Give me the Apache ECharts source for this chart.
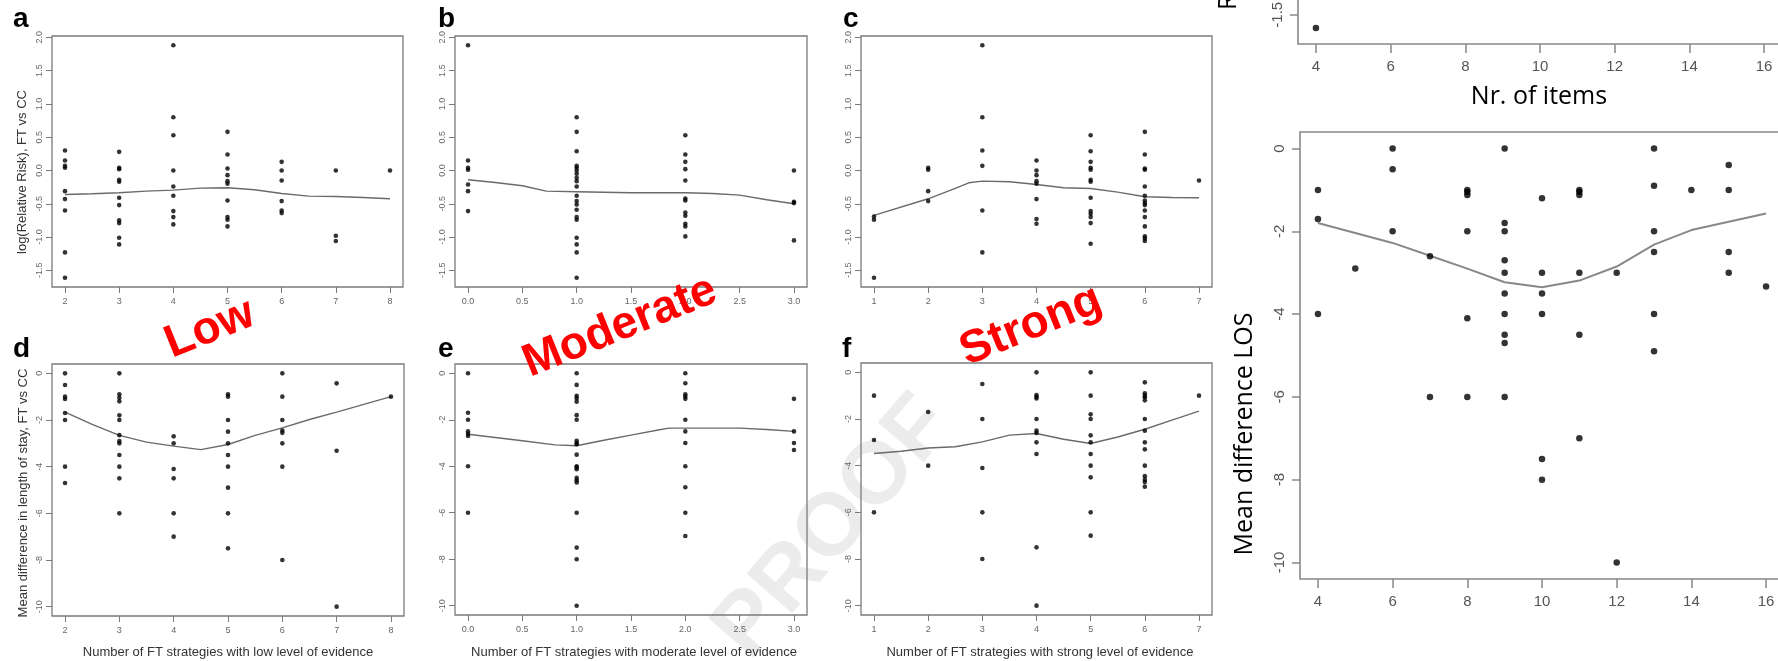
<!DOCTYPE html>
<html><head><meta charset="utf-8">
<script src="https://cdn.jsdelivr.net/npm/echarts@6/dist/echarts.min.js"></script>
<style>html,body{margin:0;padding:0;background:#fff}#c{width:1778px;height:661px}</style>
</head><body><div id="c"></div><script>
// ---------- DATA ----------
// Panel a: log(Relative Risk) vs number of low-evidence strategies
const aCats = [2,3,4,5,6,7,8];
const aVals = [
  [0.30,0.15,0.07,0.04,-0.31,-0.43,-0.60,-1.23,-1.61],
  [0.28,0.04,0.02,-0.14,-0.17,-0.41,-0.52,-0.75,-0.79,-1.01,-1.11],
  [1.88,0.80,0.53,0.0,-0.24,-0.38,-0.61,-0.70,-0.81],
  [0.58,0.24,0.03,-0.07,-0.16,-0.20,-0.45,-0.70,-0.74,-0.84],
  [0.13,0.0,-0.15,-0.46,-0.60,-0.64],
  [0.0,-0.98,-1.06],
  [0.0]
];
const aLineX = [2,2.5,3,3.5,4,4.5,5,5.5,6,6.5,7,7.5,8];
const aLineY = [-0.36,-0.35,-0.335,-0.31,-0.295,-0.265,-0.26,-0.29,-0.345,-0.385,-0.39,-0.405,-0.425];

// Panel b: moderate evidence
const bCats = [0,1,2,3];
const bVals = [
  [1.88,0.15,0.04,0.01,-0.21,-0.31,-0.61],
  [0.80,0.58,0.29,0.07,0.04,0.0,-0.05,-0.11,-0.16,-0.24,-0.38,-0.46,-0.51,-0.59,-0.70,-0.74,-1.01,-1.11,-1.23,-1.61],
  [0.53,0.24,0.13,0.02,-0.15,-0.42,-0.45,-0.63,-0.68,-0.80,-0.84,-0.99],
  [0.0,-0.47,-0.49,-1.05]
];
const bLineX = [0,0.25,0.5,0.72,1,1.5,2,2.25,2.5,2.75,3];
const bLineY = [-0.14,-0.18,-0.23,-0.31,-0.32,-0.335,-0.335,-0.345,-0.37,-0.44,-0.5];

// Panel c: strong evidence
const cCats = [1,2,3,4,5,6,7];
const cVals = [
  [-0.69,-0.74,-1.61],
  [0.04,0.01,-0.31,-0.46],
  [1.88,0.80,0.30,0.07,-0.60,-1.23],
  [0.15,0.0,-0.07,-0.16,-0.20,-0.43,-0.73,-0.80],
  [0.53,0.29,0.13,0.04,0.01,-0.14,-0.17,-0.41,-0.61,-0.65,-0.70,-0.79,-1.10],
  [0.58,0.24,0.03,0.01,-0.24,-0.38,-0.45,-0.49,-0.52,-0.60,-0.70,-0.84,-0.99,-1.02,-1.06],
  [-0.15]
];
const cLineX = [1,2,2.5,2.75,3,3.5,4,4.5,5,5.5,6,6.5,7];
const cLineY = [-0.675,-0.425,-0.27,-0.185,-0.16,-0.17,-0.21,-0.26,-0.27,-0.325,-0.395,-0.405,-0.41];

// Panel d: mean difference in LOS vs low-evidence strategies
const dCats = [2,3,4,5,6,7,8];
const dVals = [
  [0,-0.5,-1.0,-1.1,-1.7,-2.0,-4.0,-4.7],
  [0,-0.9,-1.05,-1.2,-1.8,-2.0,-2.65,-2.9,-3.0,-3.5,-4.0,-4.5,-6.0],
  [-2.7,-3.0,-4.1,-4.5,-6.0,-7.0],
  [-0.9,-1.0,-2.0,-2.5,-3.0,-3.5,-4.0,-4.9,-6.0,-7.5],
  [0,-1.0,-2.0,-2.45,-2.55,-3.0,-4.0,-8.0],
  [-0.43,-3.32,-10.0],
  [-1.0]
];
const dLineX = [2,2.5,3,3.5,4,4.5,5,5.5,6,6.5,7,7.5,8];
const dLineY = [-1.66,-2.19,-2.66,-2.95,-3.12,-3.27,-3.05,-2.66,-2.34,-1.98,-1.66,-1.33,-1.0];

// Panel e
const eCats = [0,1,2,3];
const eVals = [
  [0,-1.7,-2.0,-2.5,-2.6,-2.7,-4.0,-6.0],
  [0,-0.5,-0.97,-1.07,-1.22,-1.8,-2.0,-2.9,-3.0,-3.05,-3.5,-4.0,-4.05,-4.13,-4.5,-4.6,-4.7,-6.0,-7.5,-8.0,-10.0],
  [0,-0.43,-0.9,-1.0,-1.1,-2.0,-2.5,-3.0,-4.0,-4.9,-6.0,-7.0],
  [-1.1,-2.5,-3.0,-3.3]
];
const eLineX = [0,0.5,0.8,1,1.25,1.5,1.75,1.85,2,2.5,2.75,3];
const eLineY = [-2.62,-2.9,-3.08,-3.12,-2.88,-2.66,-2.44,-2.36,-2.36,-2.36,-2.42,-2.5];

// Panel f
const fCats = [1,2,3,4,5,6,7];
const fVals = [
  [-1.0,-2.9,-6.0],
  [-1.7,-4.0],
  [-0.5,-2.0,-4.1,-6.0,-8.0],
  [0,-0.97,-1.05,-1.12,-2.0,-2.5,-2.6,-3.0,-3.5,-7.5,-10.0],
  [0,-1.0,-1.8,-2.0,-2.7,-3.0,-3.5,-4.0,-4.5,-6.0,-7.0],
  [-0.43,-0.9,-1.0,-1.07,-1.2,-2.0,-2.5,-3.0,-3.3,-4.0,-4.45,-4.6,-4.7,-4.9],
  [-1.0]
];
const fLineX = [1,1.5,2,2.5,3,3.5,4,4.5,5,5.5,6,6.5,7];
const fLineY = [-3.48,-3.38,-3.24,-3.19,-2.98,-2.69,-2.62,-2.87,-3.05,-2.77,-2.44,-2.05,-1.66];

// Right panels: vs number of items
const urCats = [4];
const urVals = [[-1.6]];
const rCats = [4,5,6,7,8,9,10,11,12,13,14,15,16];
const rVals = [
  [-1.0,-1.7,-4.0],
  [-2.9],
  [0,-0.5,-2.0],
  [-2.6,-6.0],
  [-1.0,-1.05,-1.12,-2.0,-4.1,-6.0],
  [0,-1.8,-2.0,-2.7,-3.0,-3.5,-4.0,-4.5,-4.7,-6.0],
  [-1.2,-3.0,-3.5,-4.0,-7.5,-8.0],
  [-1.0,-1.05,-1.12,-3.0,-4.5,-7.0],
  [-3.0,-10.0],
  [0,-0.9,-2.0,-2.5,-4.0,-4.9],
  [-1.0],
  [-0.4,-1.0,-2.5,-3.0],
  [-3.33]
];
const rLineX = [4,5,6,7,8,9,10,11,12,13,14,15,16];
const rLineY = [-1.8,-2.04,-2.28,-2.59,-2.9,-3.23,-3.35,-3.19,-2.85,-2.32,-1.97,-1.77,-1.57];

// Tick labels
const rrTicks = [-1.5,-1.0,-0.5,0.0,0.5,1.0,1.5,2.0];
const losTicks = [0,-2,-4,-6,-8,-10];
const modTicks = [0,0.5,1,1.5,2,2.5,3];
const itemTicks = [4,6,8,10,12,14,16];
const urYTicks = [-1.5,-1.0,-0.5,0.0,0.5];

// Text
const panelLetters = ['a','b','c','d','e','f'];
const yTitleTop = 'log(Relative Risk), FT vs CC';
const yTitleBottom = 'Mean difference in length of stay, FT vs CC';
const xTitles = ['Number of FT strategies with low level of evidence','Number of FT strategies with moderate level of evidence','Number of FT strategies with strong level of evidence'];
const levelLabels = ['Low','Moderate','Strong'];
const rightXTitle = 'Nr. of items';
const rightYTitle = 'Mean difference LOS';
const rightTopYTitle = 'Relative Risk';
const watermark = 'PROOF';

// ---------- BUILD ----------
function pts(cats, vals){ const o=[]; cats.forEach((c,i)=>vals[i].forEach(v=>o.push([c,v]))); return o; }
function ln(xs, ys){ return xs.map((x,i)=>[x, ys[i]]); }
const SANS = '"Liberation Sans", Arial, sans-serif';
const f1 = v => v.toFixed(1);
const f0 = v => String(v);

const panels = [
  {box:[52,36,403,287],  x:[1.76,8.24], xt:aCats, xf:f0, y:[-1.75,2.02], yt:rrTicks, yf:f1, s:pts(aCats,aVals), l:ln(aLineX,aLineY)},
  {box:[455,36,807,287], x:[-0.12,3.12], xt:modTicks, xf:f1, y:[-1.75,2.02], yt:rrTicks, yf:f1, s:pts(bCats,bVals), l:ln(bLineX,bLineY)},
  {box:[861,36,1212,287],x:[0.76,7.24], xt:cCats, xf:f0, y:[-1.75,2.02], yt:rrTicks, yf:f1, s:pts(cCats,cVals), l:ln(cLineX,cLineY)},
  {box:[52,364,404,616], x:[1.76,8.24], xt:dCats, xf:f0, y:[-10.4,0.4], yt:losTicks, yf:f0, s:pts(dCats,dVals), l:ln(dLineX,dLineY)},
  {box:[455,364,807,615],x:[-0.12,3.12], xt:modTicks, xf:f1, y:[-10.4,0.4], yt:losTicks, yf:f0, s:pts(eCats,eVals), l:ln(eLineX,eLineY)},
  {box:[861,363,1212,615],x:[0.76,7.24], xt:fCats, xf:f0, y:[-10.4,0.4], yt:losTicks, yf:f0, s:pts(fCats,fVals), l:ln(fLineX,fLineY)}
];

const grids=[], xAxes=[], yAxes=[], series=[];
const BOX='#7a7a7a';
const noLine = {show:false, onZero:false};
panels.forEach((p,i)=>{
  const [l,t,r,b]=p.box;
  grids.push({left:l, top:t, width:r-l, height:b-t, show:true, borderColor:BOX, borderWidth:1.3, containLabel:false, outerBoundsMode:'none'});
  xAxes.push({gridIndex:i, type:'value', position:'bottom', min:p.x[0], max:p.x[1], axisLine:noLine, splitLine:{show:false},
    axisTick:{show:true, inside:false, length:6, customValues:p.xt, lineStyle:{color:BOX, width:1}},
    axisLabel:{customValues:p.xt, formatter:p.xf, fontSize:9, color:'#666', margin:10, fontFamily:SANS}});
  yAxes.push({gridIndex:i, type:'value', position:'left', min:p.y[0], max:p.y[1], axisLine:noLine, splitLine:{show:false},
    axisTick:{show:true, inside:false, length:6, customValues:p.yt, lineStyle:{color:BOX, width:1}},
    axisLabel:{customValues:p.yt, formatter:p.yf, fontSize:9, color:'#666', margin:8, rotate:90, fontFamily:SANS}});
  series.push({type:'line', xAxisIndex:i, yAxisIndex:i, data:p.l, showSymbol:false, symbol:'none', lineStyle:{color:'#6a6a6a', width:1.4}, z:2, silent:true});
  series.push({type:'scatter', xAxisIndex:i, yAxisIndex:i, data:p.s, symbolSize:4.6, itemStyle:{color:'#000'}, z:3, silent:true});
});

// right upper (mostly off-canvas)
grids.push({left:1298, top:-300, width:484, height:661-617+300, show:true, borderColor:'#888', borderWidth:1.6, containLabel:false, outerBoundsMode:'none'});
xAxes.push({gridIndex:6, type:'value', position:'bottom', min:3.52, max:16.48, axisLine:noLine, splitLine:{show:false},
  axisTick:{show:true, length:9, customValues:itemTicks, lineStyle:{color:'#888', width:1.5}},
  axisLabel:{customValues:itemTicks, fontSize:15, color:'#555', margin:15, fontFamily:SANS}});
yAxes.push({gridIndex:6, type:'value', position:'left', min:-1.72, max:0.87, axisLine:noLine, splitLine:{show:false},
  axisTick:{show:true, length:8, customValues:urYTicks, lineStyle:{color:'#888', width:1.5}},
  axisLabel:{customValues:urYTicks, formatter:f1, fontSize:15, color:'#555', margin:13, rotate:90, fontFamily:SANS}});
series.push({type:'scatter', xAxisIndex:6, yAxisIndex:6, data:pts(urCats,urVals), symbolSize:6.5, itemStyle:{color:'#000'}, silent:true});

// right lower
grids.push({left:1300, top:132, width:484, height:579-132, show:true, borderColor:'#888', borderWidth:1.6, containLabel:false, outerBoundsMode:'none'});
xAxes.push({gridIndex:7, type:'value', position:'bottom', min:3.52, max:16.48, axisLine:noLine, splitLine:{show:false},
  axisTick:{show:true, length:9, customValues:itemTicks, lineStyle:{color:'#888', width:1.5}},
  axisLabel:{customValues:itemTicks, fontSize:15, color:'#555', margin:15, fontFamily:SANS}});
yAxes.push({gridIndex:7, type:'value', position:'left', min:-10.4, max:0.4, axisLine:noLine, splitLine:{show:false},
  axisTick:{show:true, length:8, customValues:losTicks, lineStyle:{color:'#888', width:1.5}},
  axisLabel:{customValues:losTicks, fontSize:15, color:'#555', margin:13, rotate:90, fontFamily:SANS}});
series.push({type:'line', xAxisIndex:7, yAxisIndex:7, data:ln(rLineX,rLineY), showSymbol:false, symbol:'none', lineStyle:{color:'#888', width:2}, silent:true});
series.push({type:'scatter', xAxisIndex:7, yAxisIndex:7, data:pts(rCats,rVals), symbolSize:6.5, itemStyle:{color:'#000'}, z:3, silent:true});

// ---------- GRAPHIC TEXT ----------
function txt(text, x, y, font, fill, rot, align, z){
  return {type:'text', x:x, y:y, rotation:rot||0, z:z==null?10:z, silent:true,
    style:{text:text, font:font, fill:fill, textAlign:align||'center', textVerticalAlign:'middle', verticalAlign:'middle'}};
}
const D = Math.PI/180;
const letterPos = [[13,19],[438,19],[843,19],[13,349],[438,349],[842,349]];
const g = [];
g.push(txt(watermark, 834, 528, 'bold 88px '+SANS, '#ececec', 49*D, 'center', -5));
panelLetters.forEach((L,i)=>g.push(txt(L, letterPos[i][0], letterPos[i][1], 'bold 28px '+SANS, '#000', 0, 'left')));
g.push(txt(yTitleTop, 22, 172, '13px '+SANS, '#333', 90*D));
g.push(txt(yTitleBottom, 23, 493, '13px '+SANS, '#333', 90*D));
[228,634,1040].forEach((cx,i)=>g.push(txt(xTitles[i], cx, 652, '13px '+SANS, '#333', 0)));
[[210,329],[620,327],[1031,326]].forEach((p,i)=>g.push(txt(levelLabels[i], p[0], p[1], 'bold 46px '+SANS, '#ff0000', 22*D, 'center', 20)));
g.push(txt(rightXTitle, 1539, 97, '25px "Open Sans", sans-serif', '#000', 0));
g.push(txt(rightYTitle, 1245, 434, '25px "Open Sans", sans-serif', '#000', 90*D));
g.push(txt(rightTopYTitle, 1229, 10, '25px "Open Sans", sans-serif', '#000', 90*D, 'left'));

const chart = echarts.init(document.getElementById('c'), null, {renderer:'canvas', width:1778, height:661});
chart.setOption({animation:false, backgroundColor:'#fff', grid:grids, xAxis:xAxes, yAxis:yAxes, series:series, graphic:{elements:g}});
</script></body></html>
